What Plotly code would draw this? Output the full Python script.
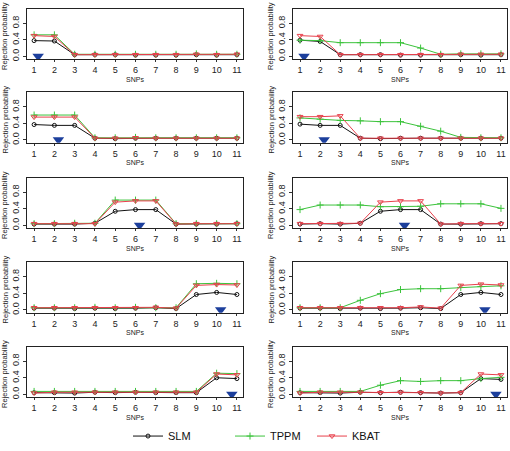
import plotly.graph_objects as go

SNPS = list(range(1, 12))
TICK_LABELS = [str(i) for i in SNPS]
Y_TICKS = [0.0, 0.4, 0.8]
Y_TICK_LABELS = ["0.0", "0.4", "0.8"]

# Panels in row-major order (row1 left, row1 right, row2 left, ...)
SLM = [
    [0.38, 0.37, 0.04, 0.04, 0.04, 0.03, 0.03, 0.03, 0.04, 0.03, 0.04],
    [0.39, 0.36, 0.04, 0.04, 0.04, 0.03, 0.03, 0.03, 0.04, 0.03, 0.04],
    [0.37, 0.35, 0.35, 0.04, 0.03, 0.04, 0.04, 0.04, 0.04, 0.04, 0.04],
    [0.38, 0.35, 0.35, 0.04, 0.03, 0.04, 0.04, 0.04, 0.04, 0.04, 0.04],
    [0.03, 0.03, 0.03, 0.05, 0.34, 0.38, 0.38, 0.03, 0.03, 0.03, 0.04],
    [0.03, 0.04, 0.03, 0.05, 0.34, 0.38, 0.38, 0.03, 0.03, 0.04, 0.04],
    [0.04, 0.04, 0.03, 0.04, 0.03, 0.04, 0.05, 0.03, 0.37, 0.42, 0.37],
    [0.04, 0.04, 0.03, 0.04, 0.03, 0.04, 0.05, 0.03, 0.37, 0.42, 0.37],
    [0.04, 0.04, 0.03, 0.05, 0.04, 0.05, 0.04, 0.04, 0.04, 0.40, 0.38],
    [0.04, 0.04, 0.03, 0.05, 0.04, 0.05, 0.04, 0.03, 0.04, 0.38, 0.36],
]
TPPM = [
    [0.52, 0.52, 0.05, 0.05, 0.05, 0.05, 0.05, 0.05, 0.06, 0.05, 0.05],
    [0.39, 0.38, 0.33, 0.33, 0.33, 0.33, 0.20, 0.05, 0.06, 0.06, 0.06],
    [0.60, 0.60, 0.60, 0.05, 0.05, 0.06, 0.05, 0.05, 0.05, 0.05, 0.05],
    [0.53, 0.50, 0.47, 0.46, 0.44, 0.44, 0.33, 0.21, 0.06, 0.05, 0.05],
    [0.04, 0.04, 0.05, 0.05, 0.61, 0.61, 0.61, 0.04, 0.04, 0.04, 0.04],
    [0.38, 0.49, 0.49, 0.49, 0.45, 0.45, 0.46, 0.52, 0.52, 0.52, 0.41],
    [0.05, 0.05, 0.05, 0.06, 0.05, 0.06, 0.05, 0.05, 0.63, 0.64, 0.63],
    [0.05, 0.05, 0.05, 0.23, 0.39, 0.49, 0.51, 0.51, 0.54, 0.56, 0.58],
    [0.07, 0.07, 0.07, 0.07, 0.07, 0.07, 0.07, 0.07, 0.07, 0.51, 0.50],
    [0.07, 0.07, 0.07, 0.07, 0.22, 0.33, 0.31, 0.33, 0.33, 0.38, 0.41],
]
KBAT = [
    [0.50, 0.48, 0.04, 0.04, 0.04, 0.04, 0.04, 0.04, 0.05, 0.04, 0.05],
    [0.50, 0.48, 0.04, 0.04, 0.04, 0.04, 0.04, 0.04, 0.05, 0.05, 0.05],
    [0.55, 0.55, 0.55, 0.04, 0.04, 0.05, 0.04, 0.04, 0.04, 0.04, 0.04],
    [0.56, 0.56, 0.58, 0.04, 0.04, 0.04, 0.04, 0.04, 0.04, 0.04, 0.04],
    [0.04, 0.04, 0.04, 0.04, 0.56, 0.59, 0.59, 0.03, 0.04, 0.04, 0.04],
    [0.04, 0.04, 0.04, 0.05, 0.56, 0.59, 0.59, 0.03, 0.04, 0.04, 0.04],
    [0.05, 0.05, 0.05, 0.05, 0.05, 0.05, 0.06, 0.04, 0.59, 0.61, 0.60],
    [0.05, 0.05, 0.05, 0.05, 0.05, 0.05, 0.07, 0.04, 0.59, 0.62, 0.60],
    [0.03, 0.05, 0.05, 0.05, 0.05, 0.05, 0.05, 0.05, 0.05, 0.49, 0.47],
    [0.03, 0.05, 0.05, 0.05, 0.04, 0.05, 0.04, 0.03, 0.04, 0.49, 0.47],
]
CAUSAL_POS = [1.2, 1.2, 2.2, 2.2, 6.2, 6.2, 10.2, 10.2, 10.75, 10.75]
CAUSAL_Y = [0.0] * 10

W, H = 510, 451
FONT = "Liberation Sans, Arial, sans-serif"

COL_X = [(27, 243), (293, 507)]
ROW_TOP = [9, 95, 183, 270, 357]
BOX_H = 52

SERIES = [
    ("SLM", SLM, "#111111", "circle-open", 4, "legend", 168),
    ("TPPM", TPPM, "#3cc33c", "cross-thin-open", 5, "legend2", 270),
    ("KBAT", KBAT, "#e8404c", "triangle-down-open", 5, "legend3", 352),
]

fig = go.Figure()
annotations = []

for i in range(10):
    r, c = divmod(i, 2)
    x0, x1 = COL_X[c]
    top = ROW_TOP[r]
    bot = top + BOX_H
    xa = "x" if i == 0 else f"x{i+1}"
    ya = "y" if i == 0 else f"y{i+1}"
    for name, data, color, sym, size, leg, _ in SERIES:
        fig.add_trace(go.Scatter(
            x=SNPS, y=data[i], xaxis=xa, yaxis=ya, mode="lines+markers", name=name,
            line=dict(color=color, width=1),
            marker=dict(symbol=sym, size=size, color=color, line=dict(width=1, color=color)),
            showlegend=(i == 0), legend=leg))
    fig.add_trace(go.Scatter(
        x=[CAUSAL_POS[i]], y=[CAUSAL_Y[i]], xaxis=xa, yaxis=ya, mode="markers",
        marker=dict(symbol="triangle-down", size=10, color="#1c3f9c"),
        showlegend=False, hoverinfo="skip"))

    ax = dict(domain=[x0 / W, x1 / W], anchor=ya, range=[0.65, 11.3],
              tickvals=SNPS, ticktext=TICK_LABELS, ticks="outside", ticklen=2,
              tickcolor="#333", showgrid=False, zeroline=False, showline=True,
              linecolor="#222", linewidth=1, mirror=True,
              tickfont=dict(size=9, family=FONT, color="#222"))
    ay = dict(domain=[1 - bot / H, 1 - top / H], anchor=xa, range=[-0.07, 1.15],
              tickvals=Y_TICKS, ticktext=Y_TICK_LABELS, tickangle=-90,
              ticks="outside", ticklen=3, tickcolor="#333", showgrid=False,
              zeroline=False, showline=True, linecolor="#222", linewidth=1,
              mirror=True, tickfont=dict(size=9, family=FONT, color="#222"))
    key = "" if i == 0 else str(i + 1)
    fig.update_layout(**{f"xaxis{key}": ax, f"yaxis{key}": ay})

    annotations.append(dict(
        text="SNPs", x=(x0 + x1) / 2 / W, y=1 - (bot + 20.5) / H, xref="paper", yref="paper",
        showarrow=False, font=dict(size=7, family=FONT, color="#222"),
        xanchor="center", yanchor="middle"))
    annotations.append(dict(
        text="Rejection probability", x=(x0 - 22) / W, y=1 - (top + 28) / H,
        xref="paper", yref="paper", showarrow=False, textangle=-90,
        font=dict(size=7.5, family=FONT, color="#222"), xanchor="center", yanchor="middle"))

legends = {}
for name, _, _, _, _, leg, lx in SERIES:
    legends[leg] = dict(orientation="h", x=(lx - 40) / W, y=1 - 449 / H,
                        xanchor="left", yanchor="middle",
                        font=dict(size=11, family=FONT, color="#111"),
                        bgcolor="rgba(0,0,0,0)", borderwidth=0, itemwidth=30)

fig.update_layout(
    width=W, height=H, margin=dict(l=0, r=0, t=0, b=0),
    paper_bgcolor="white", plot_bgcolor="white",
    annotations=annotations,
    **legends,
)

fig.write_html("out.html", config={"displayModeBar": False},
               post_script="document.body.style.margin='0';document.body.style.padding='0';")
